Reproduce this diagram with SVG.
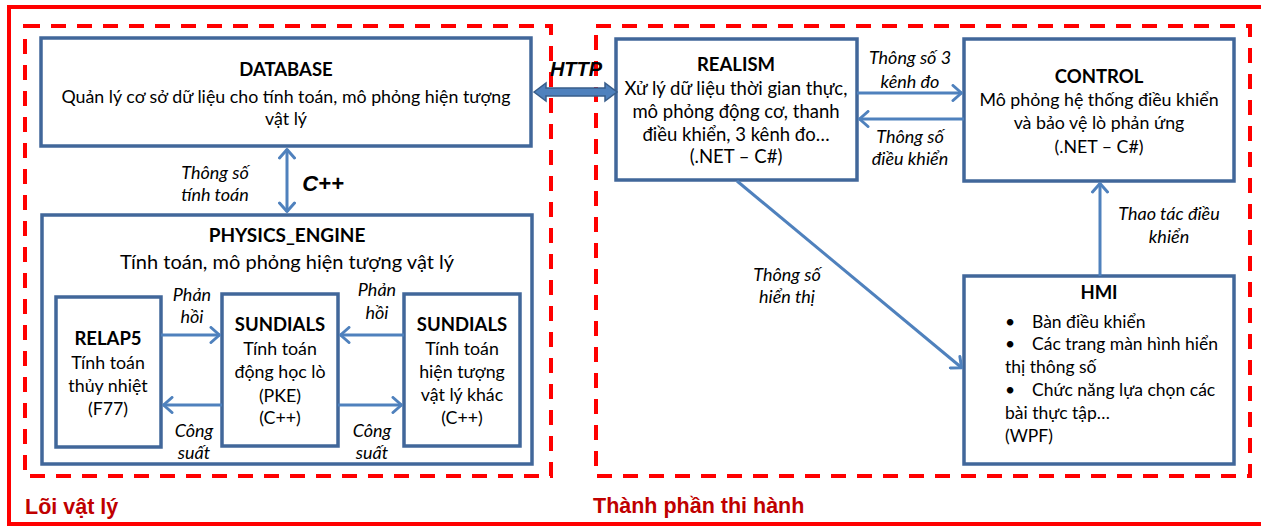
<svg xmlns="http://www.w3.org/2000/svg" width="1261" height="527" viewBox="0 0 1261 527">
<style>
.frame{fill:none;stroke:#ff0000;stroke-width:4}
.dash{fill:none;stroke:#ff0000;stroke-width:4;stroke-dasharray:15 11}
.box{fill:#ffffff;stroke:#41679a;stroke-width:3.5}
.conn{fill:none;stroke:#4f81bd;stroke-width:3}
text{font-family:Lato,"Noto Sans",sans-serif;fill:#000000}
.t{font-size:18.5px;font-weight:bold;text-anchor:middle}
.b{font-size:17.8px;text-anchor:middle}
.bl{font-size:17.5px}
.lbl{font-size:18px;font-style:italic;text-anchor:middle}
.big{font-family:"Liberation Sans",Arial,sans-serif;font-weight:bold;font-style:italic}
.grp{font-family:"Liberation Sans",Arial,sans-serif;font-weight:bold;font-size:21.5px;fill:#c00000}
</style>
<defs>
<marker id="ah" viewBox="0 0 12 18" refX="11" refY="9" markerWidth="12" markerHeight="18" markerUnits="userSpaceOnUse" orient="auto-start-reverse">
<path d="M2,1.5 L10.5,9 L2,16.5" fill="none" stroke="#4f81bd" stroke-width="3" stroke-linecap="round" stroke-linejoin="round"/>
</marker>
</defs>

<g id="frames">
<rect class="frame" x="9" y="7" width="1262" height="517"/>
<rect class="dash" x="25" y="26" width="526" height="450"/>
<rect class="dash" x="596" y="26" width="654" height="450"/>
<text class="grp" x="25" y="514">Lõi vật lý</text>
<text class="grp" x="593" y="513">Thành phần thi hành</text>
</g>

<g id="database">
<rect class="box" x="41" y="38" width="490" height="108"/>
<text class="t" x="286" y="76">DATABASE</text>
<text class="b" x="286" y="103">Quản lý cơ sở dữ liệu cho tính toán, mô phỏng hiện tượng</text>
<text class="b" x="286" y="125">vật lý</text>
</g>

<g id="physics_engine">
<rect class="box" x="42" y="215" width="490" height="249"/>
<text class="t" x="287" y="242" style="font-size:19px">PHYSICS_ENGINE</text>
<text class="b" x="287" y="269" style="font-size:20px">Tính toán, mô phỏng hiện tượng vật lý</text>
</g>

<g id="relap5">
<rect class="box" x="56" y="297" width="105" height="150"/>
<text class="t" x="108" y="345">RELAP5</text>
<text class="b" x="108" y="369">Tính toán</text>
<text class="b" x="108" y="392">thủy nhiệt</text>
<text class="b" x="108" y="415">(F77)</text>
</g>

<g id="sundials_pke">
<rect class="box" x="222" y="294" width="116" height="152"/>
<text class="t" x="280" y="331">SUNDIALS</text>
<text class="b" x="280" y="355">Tính toán</text>
<text class="b" x="280" y="378">động học lò</text>
<text class="b" x="280" y="402">(PKE)</text>
<text class="b" x="280" y="424">(C++)</text>
</g>

<g id="sundials_other">
<rect class="box" x="404" y="294" width="116" height="152"/>
<text class="t" x="462" y="331">SUNDIALS</text>
<text class="b" x="462" y="355">Tính toán</text>
<text class="b" x="462" y="378">hiện tượng</text>
<text class="b" x="462" y="401">vật lý khác</text>
<text class="b" x="462" y="424">(C++)</text>
</g>

<g id="realism">
<rect class="box" x="616" y="39" width="241" height="141"/>
<text class="t" x="736" y="71">REALISM</text>
<text class="b" x="736" y="95" style="font-size:18.5px">Xử lý dữ liệu thời gian thực,</text>
<text class="b" x="736" y="118" style="font-size:18.5px">mô phỏng động cơ, thanh</text>
<text class="b" x="736" y="141" style="font-size:18.5px">điều khiển, 3 kênh đo…</text>
<text class="b" x="736" y="163" style="font-size:18.5px">(.NET – C#)</text>
</g>

<g id="control">
<rect class="box" x="964" y="39" width="270" height="142"/>
<text class="t" x="1099" y="83">CONTROL</text>
<text class="b" x="1099" y="106">Mô phỏng hệ thống điều khiển</text>
<text class="b" x="1099" y="129">và bảo vệ lò phản ứng</text>
<text class="b" x="1099" y="153">(.NET – C#)</text>
</g>

<g id="hmi">
<rect class="box" x="964" y="276" width="270" height="188"/>
<text class="t" x="1099" y="299">HMI</text>
<text class="bl" x="1005" y="328">•</text><text class="bl" x="1032" y="328">Bàn điều khiển</text>
<text class="bl" x="1005" y="350">•</text><text class="bl" x="1032" y="350">Các trang màn hình hiển</text>
<text class="bl" x="1005" y="373">thị thông số</text>
<text class="bl" x="1005" y="396">•</text><text class="bl" x="1032" y="396">Chức năng lựa chọn các</text>
<text class="bl" x="1005" y="419">bài thực tập…</text>
<text class="bl" x="1005" y="442">(WPF)</text>
</g>

<g id="connectors">
<line class="conn" x1="287" y1="149" x2="287" y2="212" marker-start="url(#ah)" marker-end="url(#ah)"/>
<line class="conn" x1="161" y1="335" x2="220" y2="335" marker-end="url(#ah)"/>
<line class="conn" x1="404" y1="335" x2="340" y2="335" marker-end="url(#ah)"/>
<line class="conn" x1="222" y1="405" x2="163" y2="405" marker-end="url(#ah)"/>
<line class="conn" x1="338" y1="405" x2="402" y2="405" marker-end="url(#ah)"/>
<line class="conn" x1="857" y1="93" x2="962" y2="93" marker-end="url(#ah)"/>
<line class="conn" x1="964" y1="119" x2="859" y2="119" marker-end="url(#ah)"/>
<line class="conn" x1="1100" y1="276" x2="1100" y2="183" marker-end="url(#ah)"/>
<line class="conn" x1="737" y1="181" x2="962" y2="368" marker-end="url(#ah)"/>
<polygon points="534,92 546,83 546,88 605,88 605,83 617,92 605,101 605,96 546,96 546,101" fill="#4f81bd" stroke="#385d8a" stroke-width="1.5"/>
<text class="big" x="576" y="76" style="font-size:20px;text-anchor:middle">HTTP</text>
<text class="big" x="323" y="191" style="font-size:22px;text-anchor:middle">C++</text>
<text class="lbl" x="215" y="179">Thông số</text>
<text class="lbl" x="215" y="201">tính toán</text>
<text class="lbl" x="192" y="301">Phản</text>
<text class="lbl" x="192" y="323">hồi</text>
<text class="lbl" x="377" y="296">Phản</text>
<text class="lbl" x="377" y="319">hồi</text>
<text class="lbl" x="194" y="437">Công</text>
<text class="lbl" x="194" y="459">suất</text>
<text class="lbl" x="372" y="437">Công</text>
<text class="lbl" x="372" y="459">suất</text>
<text class="lbl" x="910" y="64">Thông số 3</text>
<text class="lbl" x="910" y="88">kênh đo</text>
<text class="lbl" x="910" y="143">Thông số</text>
<text class="lbl" x="910" y="165">điều khiển</text>
<text class="lbl" x="1169" y="220">Thao tác điều</text>
<text class="lbl" x="1169" y="243">khiển</text>
<text class="lbl" x="787" y="281">Thông số</text>
<text class="lbl" x="787" y="303">hiển thị</text>
</g>
</svg>
